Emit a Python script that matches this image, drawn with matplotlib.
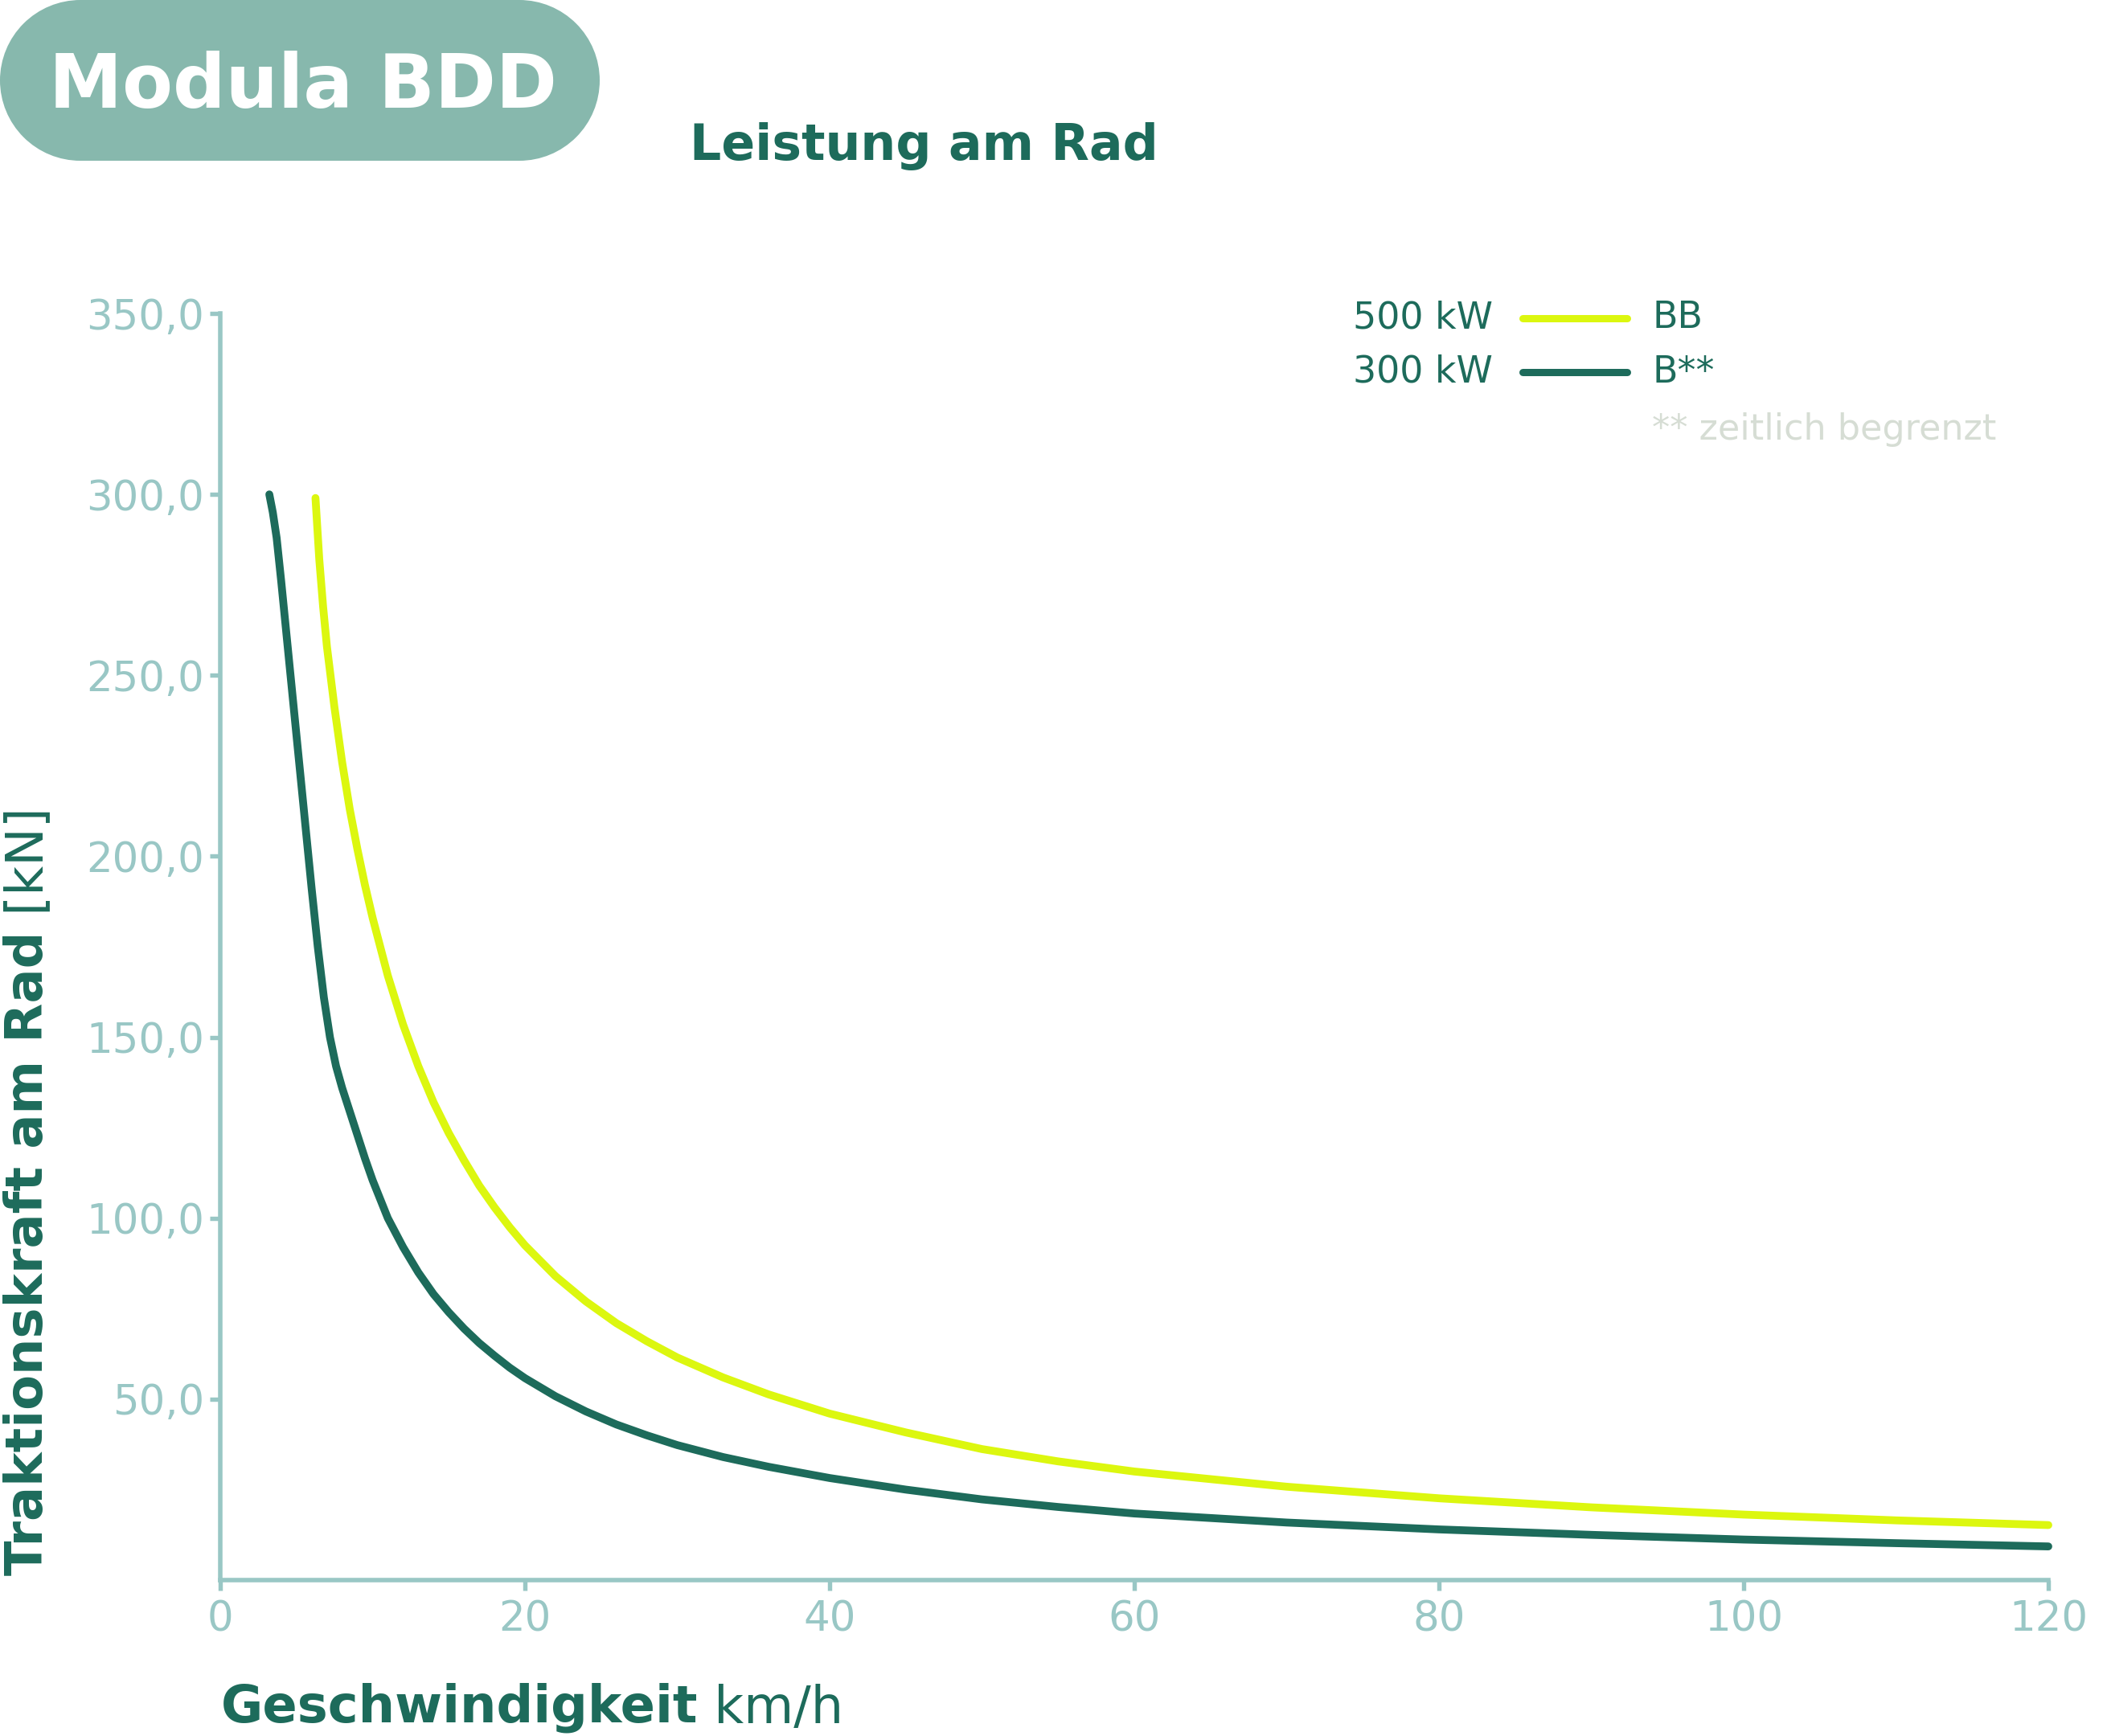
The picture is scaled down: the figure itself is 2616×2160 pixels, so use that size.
import matplotlib.pyplot as plt
from matplotlib.patches import Rectangle, Circle
from matplotlib.lines import Line2D

# colours
DARK = '#1D6B5B'
LIME = '#DCF70F'
BADGE = '#87B8AD'
AXIS = '#99C7C5'
NOTE = '#D6DDD4'

# 300 kW (B**) curve, speed km/h -> traction force kN
speed_300 = [3.22, 3.45, 3.7, 4.0, 4.4, 4.8, 5.2, 5.6, 6.0, 6.4, 6.8, 7.2, 7.6, 8.0, 8.5,
             9, 9.5, 10, 11, 12, 13, 14, 15, 16, 17, 18, 19, 20, 22, 24, 26, 28, 30,
             33, 36, 40, 45, 50, 55, 60, 70, 80, 90, 100, 110, 120]
force_300 = [300, 295, 288, 276, 259, 242, 225, 208, 191, 175, 161, 150, 142, 136, 129.5,
             123, 116.5, 110.5, 100, 92, 85, 79, 74, 69.5, 65.5, 62, 58.7, 55.8, 50.8, 46.6,
             43, 40, 37.3, 34, 31.3, 28.2, 25.0, 22.3, 20.2, 18.4, 15.9, 14.0, 12.5, 11.2,
             10.2, 9.3]

# 500 kW (BB) curve
speed_500 = [6.25, 6.5, 6.75, 7, 7.5, 8, 8.5, 9, 9.5, 10, 11, 12, 13, 14, 15, 16, 17, 18,
             19, 20, 22, 24, 26, 28, 30, 33, 36, 40, 45, 50, 55, 60, 70, 80, 90, 100, 110, 120]
force_500 = [299, 282, 269, 258, 241, 226, 213, 202, 192, 183, 167, 153.5, 142, 132, 123.5,
             116, 109, 103, 97.5, 92.5, 84, 77, 71, 66, 61.5, 56, 51.3, 46, 40.8, 36.2, 32.8,
             30, 25.8, 22.6, 20.1, 18.1, 16.5, 15.2]

x_ticks = [0, 20, 40, 60, 80, 100, 120]
y_ticks = [50, 100, 150, 200, 250, 300, 350]
y_tick_labels = ['50,0', '100,0', '150,0', '200,0', '250,0', '300,0', '350,0']

W, H = 2616, 2160
fig = plt.figure(figsize=(W / 100, H / 100), dpi=100)
ax = fig.add_axes([274 / W, 1 - 1966 / H, (2548 - 274) / W, (1966 - 390) / H])

ax.plot(speed_500, force_500, color=LIME, lw=7, solid_capstyle='round',
        solid_joinstyle='round', clip_on=False)
ax.plot(speed_300, force_300, color=DARK, lw=7, solid_capstyle='round',
        solid_joinstyle='round', clip_on=False)

ax.set_xlim(0, 120)
ax.set_ylim(0, 350)
ax.set_xticks(x_ticks)
ax.set_yticks(y_ticks)
ax.set_yticklabels(y_tick_labels)
for s in ['top', 'right']:
    ax.spines[s].set_visible(False)
for s in ['left', 'bottom']:
    ax.spines[s].set_color(AXIS)
    ax.spines[s].set_linewidth(4)
ax.tick_params(axis='both', colors=AXIS, width=3.9, length=9.5, labelsize=37)
ax.tick_params(axis='y', pad=5)
ax.tick_params(axis='x', pad=8)

# header badge (pill shape)
for p in [Rectangle((1.0, 19.6), 5.46, 2.0), Circle((1.0, 20.6), 1.0), Circle((6.46, 20.6), 1.0)]:
    p.set_transform(fig.dpi_scale_trans)
    p.set_facecolor(BADGE)
    p.set_edgecolor('none')
    fig.add_artist(p)
fig.text(377 / W, 1 - 134 / H, 'Modula BDD', ha='center', va='baseline',
         fontsize=66, fontweight='bold', color='white')
fig.text(858 / W, 1 - 199 / H, 'Leistung am Rad', ha='left', va='baseline',
         fontsize=44.5, fontweight='bold', color=DARK)

# axis titles, bold part + regular unit
ty = fig.text(4 / W, 1 - 1960 / H, 'Traktionskraft am Rad', rotation=90,
              ha='left', va='bottom', fontsize=46, fontweight='bold', color=DARK)
ax.annotate(' [kN]', xy=(0, 1), xycoords=ty, rotation=90, ha='left', va='bottom',
            fontsize=46, color=DARK)
tx = fig.text(275 / W, 1 - 2143 / H, 'Geschwindigkeit', ha='left', va='baseline',
              fontsize=46, fontweight='bold', color=DARK)
ax.annotate(' km/h', xy=(1, 0), xycoords=tx, ha='left', va='bottom',
            fontsize=46, color=DARK)

# hand-made legend
leg_y = [396, 463]
leg_left = ['500 kW', '300 kW']
leg_right = ['BB', 'B**']
leg_col = [LIME, DARK]
for yy, l1, l2, c in zip(leg_y, leg_left, leg_right, leg_col):
    fig.text(1857 / W, 1 - yy / H, l1, ha='right', va='center', fontsize=33, color=DARK)
    fig.add_artist(Line2D([18.94, 20.24], [(H - yy) / 100] * 2, transform=fig.dpi_scale_trans,
                          color=c, lw=6.5, solid_capstyle='round'))
    fig.text(2055 / W, 1 - yy / H, l2, ha='left', va='center', fontsize=33, color=DARK)
fig.text(2055 / W, 1 - 535 / H, '** zeitlich begrenzt', ha='left', va='center',
         fontsize=32, color=NOTE)

fig.savefig('out.png', dpi=100)
